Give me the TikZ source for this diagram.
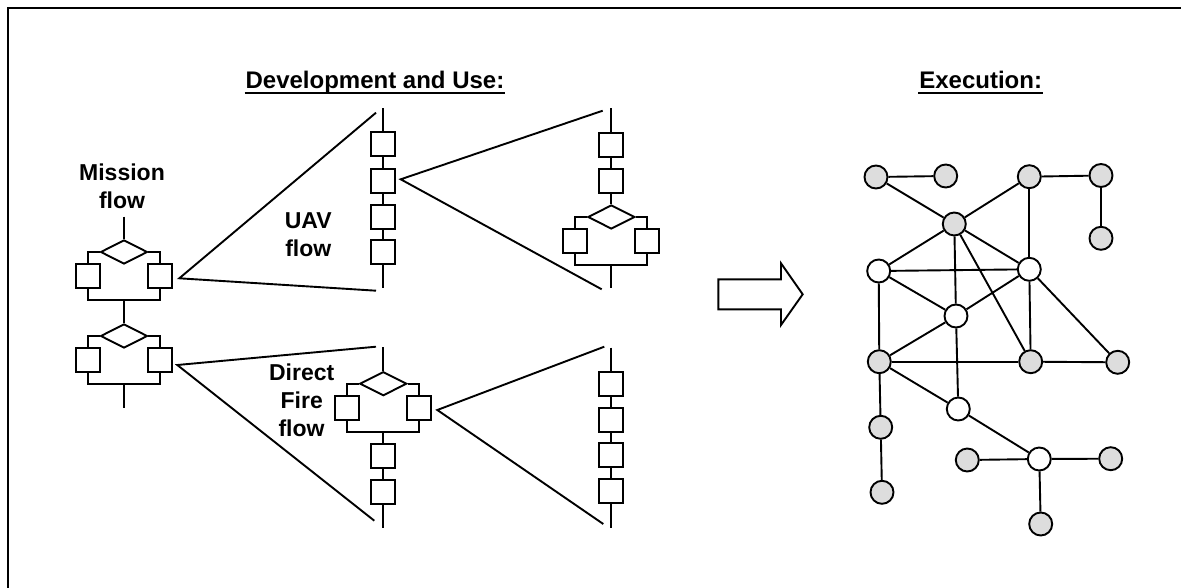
\documentclass[tikz,border=0pt]{standalone}
\usepackage{fontspec}
\setmainfont{Liberation Sans}
\usetikzlibrary{shapes.geometric}
\definecolor{nodegray}{RGB}{221,221,221}
\tikzset{
  box/.style={draw, rectangle, minimum width=24pt, minimum height=24pt, inner sep=0pt, fill=white},
  dec/.style={draw, diamond, aspect=2, minimum width=47pt, minimum height=24pt, inner sep=0pt, fill=white},
  gnode/.style={draw, circle, minimum size=23pt, inner sep=0pt, fill=nodegray},
  wnode/.style={draw, circle, minimum size=23pt, inner sep=0pt, fill=white},
  lbl/.style={font=\bfseries\fontsize{23}{28}\selectfont, inner sep=0pt, anchor=base},
  ttl/.style={font=\bfseries\fontsize{24}{28}\selectfont, inner sep=0pt, anchor=base},
  uline/.style={line width=2.6pt},
  decblock/.pic={
    \node[dec] (-d) at (0,12) {};
    \node[box] (-l) at (-36,36) {};
    \node[box] (-r) at (36,36) {};
    \coordinate (-bm) at (0,60);
    \draw (-d.west) -| (-l.north);
    \draw (-d.east) -| (-r.north);
    \draw (-l.south) |- (-bm) -| (-r.south);
  }
}
\begin{document}
\begin{tikzpicture}[x=1pt, y=-1pt, line width=1.9pt]
\useasboundingbox (0,0) rectangle (1181,588);
% frame
\coordinate (fr1) at (1183,8);
\coordinate (fr2) at (7.5,8);
\coordinate (fr3) at (7.5,590);
\draw[line width=2pt] (fr1) -- (fr2) -- (fr3);

% titles
\node[ttl] (t1) at (375,89) {Development and Use:};
\draw[uline] ([yshift=-4pt]t1.base west) -- ([yshift=-4pt]t1.base east);
\node[ttl] (t2) at (980.7,89) {Execution:};
\draw[uline] ([yshift=-4pt]t2.base west) -- ([yshift=-4pt]t2.base east);

% mission flow
\node[lbl] (mt1) at (122,180.7) {Mission};
\node[lbl] (mt2) at (122,208.3) {flow};
\coordinate (mtop) at (124,216.7);
\pic (m1) at (124,240) {decblock};
\pic (m2) at (124,324) {decblock};
\coordinate (mend) at (124,408);
\draw (mtop) -- (m1-d.north);
\draw (m1-bm) -- (m2-d.north);
\draw (m2-bm) -- (mend);

% UAV flow
\node[lbl] (ua1) at (308.3,228.3) {UAV};
\node[lbl] (ua2) at (308.3,256.7) {flow};
\coordinate (ut) at (383.3,108.3);
\node[box] (u1) at (383.3,144.3) {};
\node[box] (u2) at (383.3,180.8) {};
\node[box] (u3) at (383.3,216.7) {};
\node[box] (u4) at (383.3,252.3) {};
\coordinate (ub) at (383.3,288.3);
\draw (ut) -- (u1) -- (u2) -- (u3) -- (u4) -- (ub);

% UAV sub flow
\coordinate (vt) at (611.3,108.3);
\node[box] (v1) at (611.3,144.7) {};
\node[box] (v2) at (611.3,181) {};
\pic (v) at (611.3,205) {decblock};
\coordinate (vb) at (611.3,288.3);
\draw (vt) -- (v1) -- (v2) -- (v-d.north);
\draw (v-bm) -- (vb);

% Direct fire flow
\node[lbl] (df1) at (301.7,380) {Direct};
\node[lbl] (df2) at (301.7,408.3) {Fire};
\node[lbl] (df3) at (301.5,436.7) {flow};
\coordinate (dt) at (383.3,347.3);
\pic (d) at (383.3,371.7) {decblock};
\node[box] (d1) at (383.3,455.7) {};
\node[box] (d2) at (383.3,491.7) {};
\coordinate (db) at (383.3,527.7);
\draw (dt) -- (d-d.north);
\draw (d-bm) -- (d1) -- (d2) -- (db);

% Direct fire sub chain
\coordinate (et) at (611.3,347.5);
\node[box] (e1) at (611.3,383.8) {};
\node[box] (e2) at (611.3,419.7) {};
\node[box] (e3) at (611.3,455.3) {};
\node[box] (e4) at (611.3,491.3) {};
\coordinate (eb) at (611.3,527.7);
\draw (et) -- (e1) -- (e2) -- (e3) -- (e4) -- (eb);

% expansion wedges
\coordinate (a1) at (179.3,278.3);
\coordinate (p1) at (376,112.7);
\coordinate (q1) at (376,290.7);
\draw (p1) -- (a1) -- (q1);
\coordinate (a2) at (400.7,179.3);
\coordinate (p2) at (602.7,110.7);
\coordinate (q2) at (601.7,289.3);
\draw (p2) -- (a2) -- (q2);
\coordinate (a3) at (177.3,365);
\coordinate (p3) at (376,346.7);
\coordinate (q3) at (374.3,520.7);
\draw (p3) -- (a3) -- (q3);
\coordinate (a4) at (437.3,410);
\coordinate (p4) at (604.3,346.7);
\coordinate (q4) at (603.3,524);
\draw (p4) -- (a4) -- (q4);

% block arrow
\draw (718.3,279.3) -- (781,279.3) -- (781,263.3) -- (802.7,294.3) -- (781,325) -- (781,309.3) -- (718.3,309.3) -- cycle;

% execution graph
\node[gnode] (n1) at (876,177) {};
\node[gnode] (n2) at (945.7,176) {};
\node[gnode] (n3) at (1029.3,176.7) {};
\node[gnode] (n4) at (1101,175.5) {};
\node[gnode] (n5) at (1101,238.3) {};
\node[gnode] (n6) at (954.3,224) {};
\node[wnode] (n7) at (878.7,271) {};
\node[wnode] (n8) at (1029.3,269.3) {};
\node[wnode] (n9) at (956,316) {};
\node[gnode] (n10) at (879.3,361.7) {};
\node[gnode] (n11) at (1030.7,361.7) {};
\node[gnode] (n12) at (1117.7,362.3) {};
\node[wnode] (n13) at (958.3,409) {};
\node[gnode] (n14) at (880.7,427.3) {};
\node[gnode] (n15) at (882,492.3) {};
\node[gnode] (n16) at (967.3,460) {};
\node[wnode] (n17) at (1039.3,459) {};
\node[gnode] (n18) at (1110.7,458.7) {};
\node[gnode] (n19) at (1040.7,524) {};
\draw (n1) -- (n2);
\draw (n1) -- (n6);
\draw (n3) -- (n4);
\draw (n4) -- (n5);
\draw (n3) -- (n6);
\draw (n3) -- (n8);
\draw (n6) -- (n7);
\draw (n6) -- (n8);
\draw (n6) -- (n9);
\draw (n6) -- (n11);
\draw (n7) -- (n8);
\draw (n7) -- (n9);
\draw (n8) -- (n9);
\draw (n7) -- (n10);
\draw (n9) -- (n10);
\draw (n8) -- (n11);
\draw (n8) -- (n12);
\draw (n10) -- (n11);
\draw (n11) -- (n12);
\draw (n10) -- (n13);
\draw (n9) -- (n13);
\draw (n10) -- (n14);
\draw (n14) -- (n15);
\draw (n13) -- (n17);
\draw (n16) -- (n17);
\draw (n17) -- (n18);
\draw (n17) -- (n19);
\end{tikzpicture}
\end{document}
